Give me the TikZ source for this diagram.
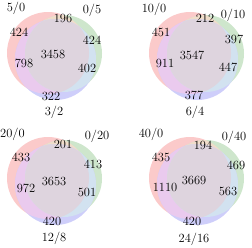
\documentclass[tikz,border=0pt]{standalone}
\usepackage{tikz}
\usetikzlibrary{positioning}

\definecolor{onlyA}{RGB}{251,202,202}
\definecolor{onlyB}{RGB}{206,230,204}
\definecolor{onlyC}{RGB}{206,206,250}
\definecolor{capAB}{RGB}{240,221,202}
\definecolor{capAC}{RGB}{234,202,238}
\definecolor{capBC}{RGB}{210,226,240}
\definecolor{capABC}{RGB}{222,212,222}

% three sets, drawn region by region
\newcommand{\vennregions}{%
	\fill[onlyA] (48,53) circle (41);
	\fill[onlyB] (63.5,53.5) circle (38.5);
	\fill[onlyC] (55.5,59.5) circle (40.5);
	\begin{scope}
		\clip (48,53) circle (41);
		\fill[capAB] (63.5,53.5) circle (38.5);
		\fill[capAC] (55.5,59.5) circle (40.5);
	\end{scope}
	\begin{scope}
		\clip (63.5,53.5) circle (38.5);
		\fill[capBC] (55.5,59.5) circle (40.5);
		\clip (48,53) circle (41);
		\fill[capABC] (55.5,59.5) circle (40.5);
	\end{scope}}

\begin{document}
\begin{tikzpicture}[x=1pt,y=-1pt,
	cnt/.style={font=\fontsize{12.5}{14}\selectfont,inner sep=0pt},
	ttl/.style={font=\fontsize{12.5}{14}\selectfont,inner sep=0pt}]
	
	\useasboundingbox (0,0) rectangle (252,247);
	
	% 5/0 -- 0/5
	\begin{scope}[shift={(0,0)}]
		\vennregions
	\end{scope}
	\node[ttl] (ta1) at (16,8) {5/0};
	\node[ttl] (tb1) at (92,10) {0/5};
	\node[ttl] (tc1) at (54,112) {3/2};
	\node[cnt] (ab1) at (63,18) {196};
	\node[cnt] (a1) at (19,32) {424};
	\node[cnt] (b1) at (92,40) {424};
	\node[cnt] (abc1) at (53,54) {3458};
	\node[cnt] (ac1) at (24,63) {798};
	\node[cnt] (bc1) at (87,68) {402};
	\node[cnt] (c1) at (51,96) {322};
	
	% 10/0 -- 0/10
	\begin{scope}[shift={(142,0)}]
		\vennregions
	\end{scope}
	\node[ttl] (ta2) at (154,9) {10/0};
	\node[ttl] (tb2) at (233,15) {0/10};
	\node[ttl] (tc2) at (195,112) {6/4};
	\node[cnt] (ab2) at (205,18) {212};
	\node[cnt] (a2) at (161,32) {451};
	\node[cnt] (b2) at (234,39) {397};
	\node[cnt] (abc2) at (192,55) {3547};
	\node[cnt] (ac2) at (165,63) {911};
	\node[cnt] (bc2) at (228,67) {447};
	\node[cnt] (c2) at (194,95) {377};
	
	% 20/0 -- 0/20
	\begin{scope}[shift={(0,125)}]
		\vennregions
	\end{scope}
	\node[ttl] (ta3) at (12.5,134) {20/0};
	\node[ttl] (tb3) at (97,136) {0/20};
	\node[ttl] (tc3) at (54,238) {12/8};
	\node[cnt] (ab3) at (63,144) {201};
	\node[cnt] (a3) at (21,157) {433};
	\node[cnt] (b3) at (93,164) {413};
	\node[cnt] (abc3) at (54,181) {3653};
	\node[cnt] (ac3) at (26,188) {972};
	\node[cnt] (bc3) at (87,192) {501};
	\node[cnt] (c3) at (52,221) {420};
	
	% 40/0 -- 0/40
	\begin{scope}[shift={(142,125)}]
		\vennregions
	\end{scope}
	\node[ttl] (ta4) at (151,134) {40/0};
	\node[ttl] (tb4) at (234,137) {0/40};
	\node[ttl] (tc4) at (194,239) {24/16};
	\node[cnt] (ab4) at (203,145) {194};
	\node[cnt] (a4) at (161,157) {435};
	\node[cnt] (b4) at (236,165) {469};
	\node[cnt] (abc4) at (194,180) {3669};
	\node[cnt] (ac4) at (165,187) {1110};
	\node[cnt] (bc4) at (228,191) {563};
	\node[cnt] (c4) at (192,221) {420};
	
\end{tikzpicture}
\end{document}
